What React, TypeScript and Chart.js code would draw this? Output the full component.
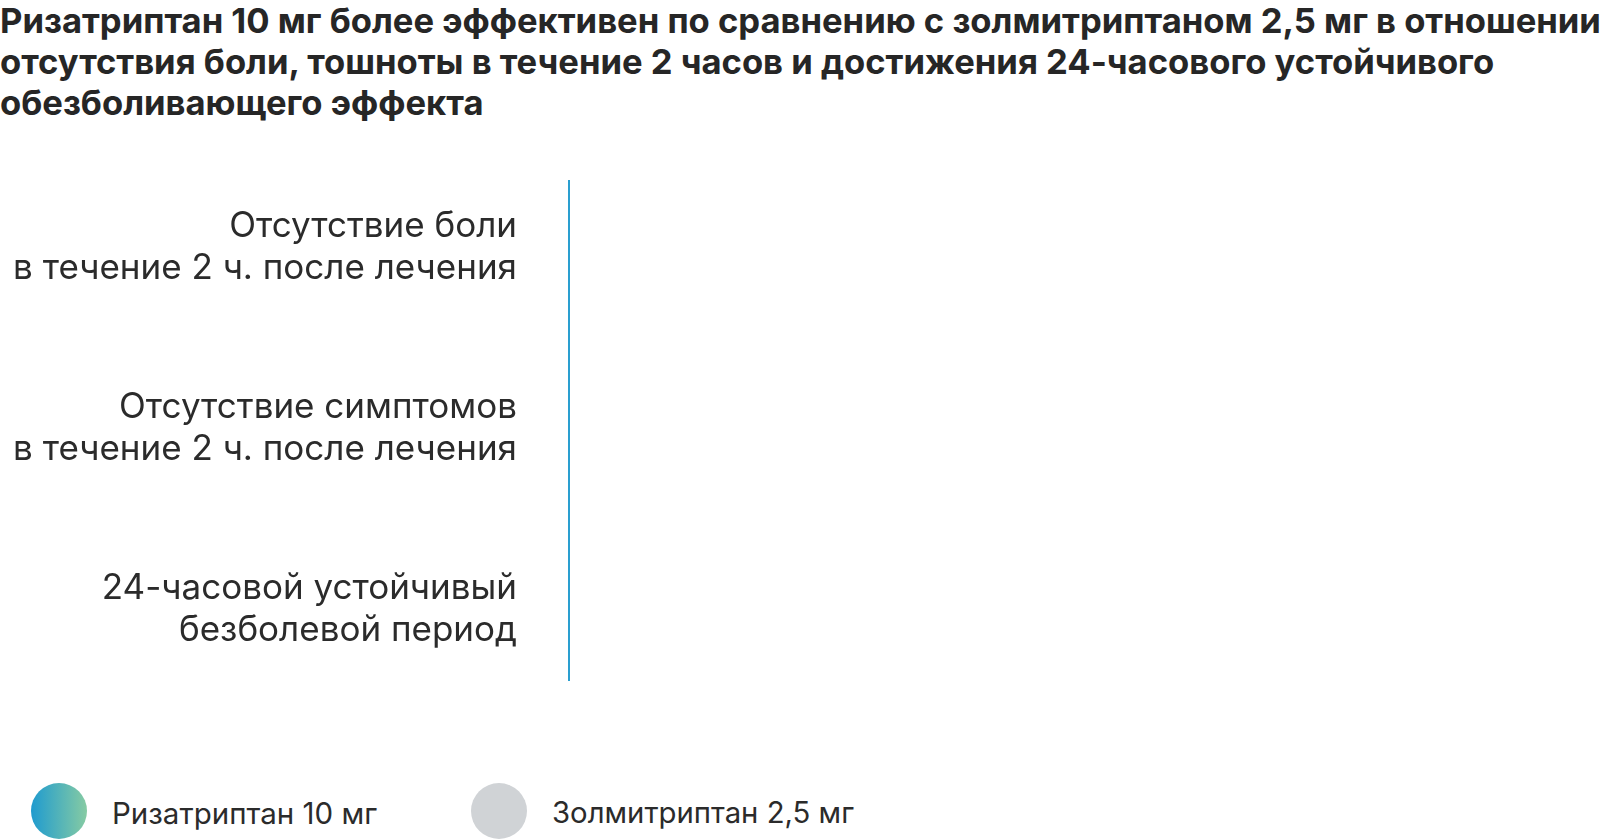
import React, { useEffect, useRef } from "react";
import { Chart, registerables } from "chart.js";

Chart.register(...registerables);

const TITLE_LINES = [
  "Ризатриптан 10 мг более эффективен по сравнению с золмитриптаном 2,5 мг в отношении",
  "отсутствия боли, тошноты в течение 2 часов и достижения 24-часового устойчивого",
  "обезболивающего эффекта",
];

const categories: string[][] = [
  ["Отсутствие боли", "в течение 2 ч. после лечения"],
  ["Отсутствие симптомов", "в течение 2 ч. после лечения"],
  ["24-часовой устойчивый", "безболевой период"],
];

const seriesNames = ["Ризатриптан 10 мг", "Золмитриптан 2,5 мг"];
// No bars are visible in the reference picture
const rizatriptanValues = [0, 0, 0];
const zolmitriptanValues = [0, 0, 0];

const FONT = "Inter, 'Noto Sans', sans-serif";
const TEXT = "#2b2b2b";
const AXIS_BLUE = "#2a9fd0";

// Draws the category axis line slightly inset from the plot area ends
const axisLinePlugin = {
  id: "axisLine",
  afterDraw(chart: any) {
    const { ctx, chartArea } = chart;
    ctx.save();
    ctx.strokeStyle = AXIS_BLUE;
    ctx.lineWidth = 2;
    ctx.beginPath();
    ctx.moveTo(chartArea.left, chartArea.top + 23);
    ctx.lineTo(chartArea.left, chartArea.bottom - 19);
    ctx.stroke();
    ctx.restore();
  },
};

export default function App() {
  const canvasRef = useRef<HTMLCanvasElement | null>(null);

  useEffect(() => {
    if (!canvasRef.current) return;
    const chart = new Chart(canvasRef.current, {
      type: "bar",
      data: {
        labels: categories,
        datasets: [
          {
            label: seriesNames[0],
            data: rizatriptanValues,
            backgroundColor: AXIS_BLUE,
            borderWidth: 0,
          },
          {
            label: seriesNames[1],
            data: zolmitriptanValues,
            backgroundColor: "#d0d3d6",
            borderWidth: 0,
          },
        ],
      },
      options: {
        indexAxis: "y",
        animation: false,
        responsive: true,
        maintainAspectRatio: false,
        layout: { padding: { top: 7, bottom: 20, left: 0, right: 0 } },
        plugins: {
          legend: { display: false },
          tooltip: { enabled: false },
        },
        scales: {
          x: { display: false, min: 0, max: 100 },
          y: {
            grid: { display: false, drawTicks: false },
            border: { display: false },
            ticks: {
              font: { family: FONT, size: 35, lineHeight: 1.21 },
              color: TEXT,
              padding: 52,
              crossAlign: "near",
            },
            afterFit: (scale: any) => {
              scale.width = 569;
              scale.paddingTop = 0;
              scale.paddingBottom = 0;
            },
          },
        },
      },
      plugins: [axisLinePlugin],
    });
    return () => chart.destroy();
  }, []);

  return (
    <div
      style={{
        position: "absolute",
        left: 0,
        top: 0,
        width: 1603,
        height: 839,
        background: "#fff",
        fontFamily: FONT,
        color: TEXT,
      }}
    >
      <div
        style={{
          position: "absolute",
          left: 0,
          top: 0,
          width: 1603,
          fontSize: 34.6,
          fontWeight: 700,
          lineHeight: "41px",
          color: "#262626",
          whiteSpace: "nowrap",
        }}
      >
        {TITLE_LINES.map((l, i) => (
          <div key={i}>{l}</div>
        ))}
      </div>
      <div style={{ position: "absolute", left: 0, top: 150, width: 1603, height: 570 }}>
        <canvas ref={canvasRef} />
      </div>
      <div
        style={{
          position: "absolute",
          left: 31,
          top: 783,
          width: 56,
          height: 56,
          borderRadius: "50%",
          background: "linear-gradient(90deg, #1f9bcf, #86cba3)",
        }}
      />
      <div
        style={{
          position: "absolute",
          left: 112,
          top: 793,
          fontSize: 29.5,
          lineHeight: "40px",
        }}
      >
        {seriesNames[0]}
      </div>
      <div
        style={{
          position: "absolute",
          left: 471,
          top: 783,
          width: 56,
          height: 56,
          borderRadius: "50%",
          background: "#d0d3d6",
        }}
      />
      <div
        style={{
          position: "absolute",
          left: 552,
          top: 793,
          fontSize: 29.3,
          lineHeight: "40px",
        }}
      >
        {seriesNames[1]}
      </div>
    </div>
  );
}
